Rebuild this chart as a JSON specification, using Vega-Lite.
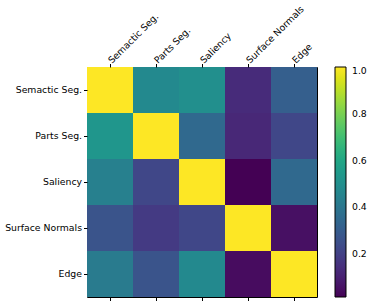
{
  "$schema": "https://vega.github.io/schema/vega-lite/v6.json",
  "width": 230,
  "height": 230,
  "autosize": {"type": "none"},
  "padding": {"left": 87, "top": 67, "right": 56, "bottom": 10},
  "background": "white",
  "config": {
    "font": "DejaVu Sans",
    "view": {"stroke": "#000", "strokeWidth": 1},
    "axis": {"labelFont": "DejaVu Sans", "labelFontSize": 9.3, "labelColor": "#000", "tickColor": "#000", "domainColor": "#000", "tickSize": 3.5, "grid": false, "title": null}
  },
  "data": {
    "values": [
      {"row": "Semactic Seg.", "col": "Semactic Seg.", "v": 1.0},
      {"row": "Semactic Seg.", "col": "Parts Seg.", "v": 0.48},
      {"row": "Semactic Seg.", "col": "Saliency", "v": 0.5},
      {"row": "Semactic Seg.", "col": "Surface Normals", "v": 0.135},
      {"row": "Semactic Seg.", "col": "Edge", "v": 0.31},
      {"row": "Parts Seg.", "col": "Semactic Seg.", "v": 0.53},
      {"row": "Parts Seg.", "col": "Parts Seg.", "v": 1.0},
      {"row": "Parts Seg.", "col": "Saliency", "v": 0.35},
      {"row": "Parts Seg.", "col": "Surface Normals", "v": 0.125},
      {"row": "Parts Seg.", "col": "Edge", "v": 0.225},
      {"row": "Saliency", "col": "Semactic Seg.", "v": 0.44},
      {"row": "Saliency", "col": "Parts Seg.", "v": 0.225},
      {"row": "Saliency", "col": "Saliency", "v": 1.0},
      {"row": "Saliency", "col": "Surface Normals", "v": 0.017},
      {"row": "Saliency", "col": "Edge", "v": 0.35},
      {"row": "Surface Normals", "col": "Semactic Seg.", "v": 0.27},
      {"row": "Surface Normals", "col": "Parts Seg.", "v": 0.18},
      {"row": "Surface Normals", "col": "Saliency", "v": 0.225},
      {"row": "Surface Normals", "col": "Surface Normals", "v": 1.0},
      {"row": "Surface Normals", "col": "Edge", "v": 0.055},
      {"row": "Edge", "col": "Semactic Seg.", "v": 0.42},
      {"row": "Edge", "col": "Parts Seg.", "v": 0.27},
      {"row": "Edge", "col": "Saliency", "v": 0.48},
      {"row": "Edge", "col": "Surface Normals", "v": 0.045},
      {"row": "Edge", "col": "Edge", "v": 1.0}
    ]
  },
  "layer": [
    {
      "mark": {"type": "rect", "strokeWidth": 0},
      "encoding": {
        "x": {"field": "col", "type": "nominal", "sort": null,
              "axis": {"orient": "top", "labelAngle": -45, "labelAlign": "left", "labelBaseline": "middle", "labelPadding": 2, "domain": false}},
        "y": {"field": "row", "type": "nominal", "sort": null,
              "axis": {"orient": "left", "labelPadding": 2, "domain": false}},
        "color": {"field": "v", "type": "quantitative",
                  "scale": {"scheme": "viridis", "domain": [0.017, 1.0]},
                  "legend": {"title": null, "values": [0.2, 0.4, 0.6, 0.8, 1.0], "format": ".1f",
                             "gradientLength": 230, "gradientThickness": 11, "offset": 18,
                             "gradientStrokeColor": "#000", "gradientStrokeWidth": 1,
                             "labelFont": "DejaVu Sans", "labelFontSize": 9.3, "labelColor": "#000", "labelOffset": 6, "padding": 0}}
      }
    },
    {
      "mark": {"type": "rect", "opacity": 0},
      "encoding": {
        "x": {"field": "col", "type": "nominal", "sort": null,
              "axis": {"orient": "bottom", "labels": false, "domain": false}}
      }
    }
  ],
  "resolve": {"axis": {"x": "independent"}}
}
